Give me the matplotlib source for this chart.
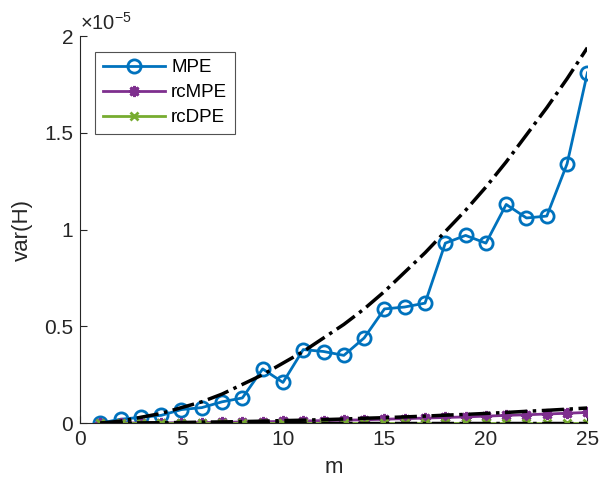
import numpy as np
import matplotlib
matplotlib.use('Agg')
import matplotlib.pyplot as plt

plt.rcParams['font.family'] = ['Liberation Sans', 'DejaVu Sans']
plt.rcParams['mathtext.fontset'] = 'custom'
plt.rcParams['mathtext.rm'] = 'Liberation Sans'
plt.rcParams['mathtext.it'] = 'Liberation Sans'

# values in units of 1e-5
m = np.arange(1, 26)
mpe = [0.00, 0.02, 0.03, 0.04, 0.07, 0.08, 0.11, 0.13, 0.28, 0.21,
       0.38, 0.37, 0.35, 0.44, 0.59, 0.60, 0.62, 0.93, 0.97, 0.93,
       1.13, 1.06, 1.07, 1.34, 1.81]
rcmpe = [0.000, 0.000, 0.001, 0.001, 0.002, 0.003, 0.004, 0.006, 0.007, 0.009,
         0.011, 0.013, 0.015, 0.017, 0.020, 0.023, 0.026, 0.029, 0.032, 0.036,
         0.040, 0.043, 0.047, 0.051, 0.055]
rcdpe = [0.0] * 25
mpe_theory = [0.00, 0.01, 0.03, 0.05, 0.08, 0.11, 0.15, 0.20, 0.25, 0.31,
              0.37, 0.44, 0.51, 0.59, 0.68, 0.78, 0.88, 0.99, 1.10, 1.22,
              1.35, 1.49, 1.63, 1.78, 1.94]
rcmpe_theory = [0.000, 0.001, 0.001, 0.002, 0.003, 0.005, 0.006, 0.008, 0.010, 0.013,
                0.015, 0.018, 0.021, 0.025, 0.028, 0.032, 0.036, 0.041, 0.045, 0.050,
                0.055, 0.061, 0.066, 0.072, 0.078]
rcdpe_theory = [0.0] * 25

scale = 1e-5
blue = '#0072BD'
purple = '#7E2F8E'
green = '#77AC30'
dark = '#262626'

fig = plt.figure(figsize=(5.99, 4.88), dpi=100)
ax = fig.add_axes([0.1336, 0.133, 0.847, 0.793])

ax.plot(m, np.array(mpe) * scale, color=blue, lw=2, marker='o', ms=9.5,
        mfc='none', mew=2, label='MPE')
ax.plot(m, np.array(rcmpe) * scale, color=purple, lw=2, marker=(8, 2, 0), ms=8,
        mew=2, label='rcMPE')
ax.plot(m, np.array(rcdpe) * scale, color=green, lw=2, marker='x', ms=6,
        mew=2, label='rcDPE')
for th in (mpe_theory, rcmpe_theory, rcdpe_theory):
    ax.plot(m, np.array(th) * scale, color='black', lw=2.5, ls='-.', zorder=3)

ax.set_xlim(0, 25)
ax.set_ylim(0, 2e-5)
ax.set_xticks([0, 5, 10, 15, 20, 25])
ax.set_yticks(np.array([0, 0.5, 1, 1.5, 2]) * scale)
ax.set_yticklabels(['0', '0.5', '1', '1.5', '2'])
ax.tick_params(direction='in', labelsize=15, length=5, width=0.8, colors=dark,
               labelcolor=dark, pad=5)
for side in ('top', 'right'):
    ax.spines[side].set_visible(False)
for side in ('left', 'bottom'):
    ax.spines[side].set_color(dark)
    ax.spines[side].set_linewidth(0.8)

ax.set_xlabel('m', fontsize=16, color=dark, labelpad=6)
ax.set_ylabel('var(H)', fontsize=16, color=dark, labelpad=8)
ax.text(0.0, 1.005, r'$\times10^{-5}$', transform=ax.transAxes, fontsize=14.5,
        color=dark, ha='left', va='bottom')

leg = ax.legend(loc='upper left', bbox_to_anchor=(0.03, 0.96), fontsize=13.5,
                handlelength=3.3, frameon=True, fancybox=False, borderpad=0.4,
                labelspacing=0.42, handletextpad=0.35, borderaxespad=0)
leg.get_frame().set_edgecolor(dark)
leg.get_frame().set_linewidth(0.8)

fig.savefig('out.png', dpi=100)
